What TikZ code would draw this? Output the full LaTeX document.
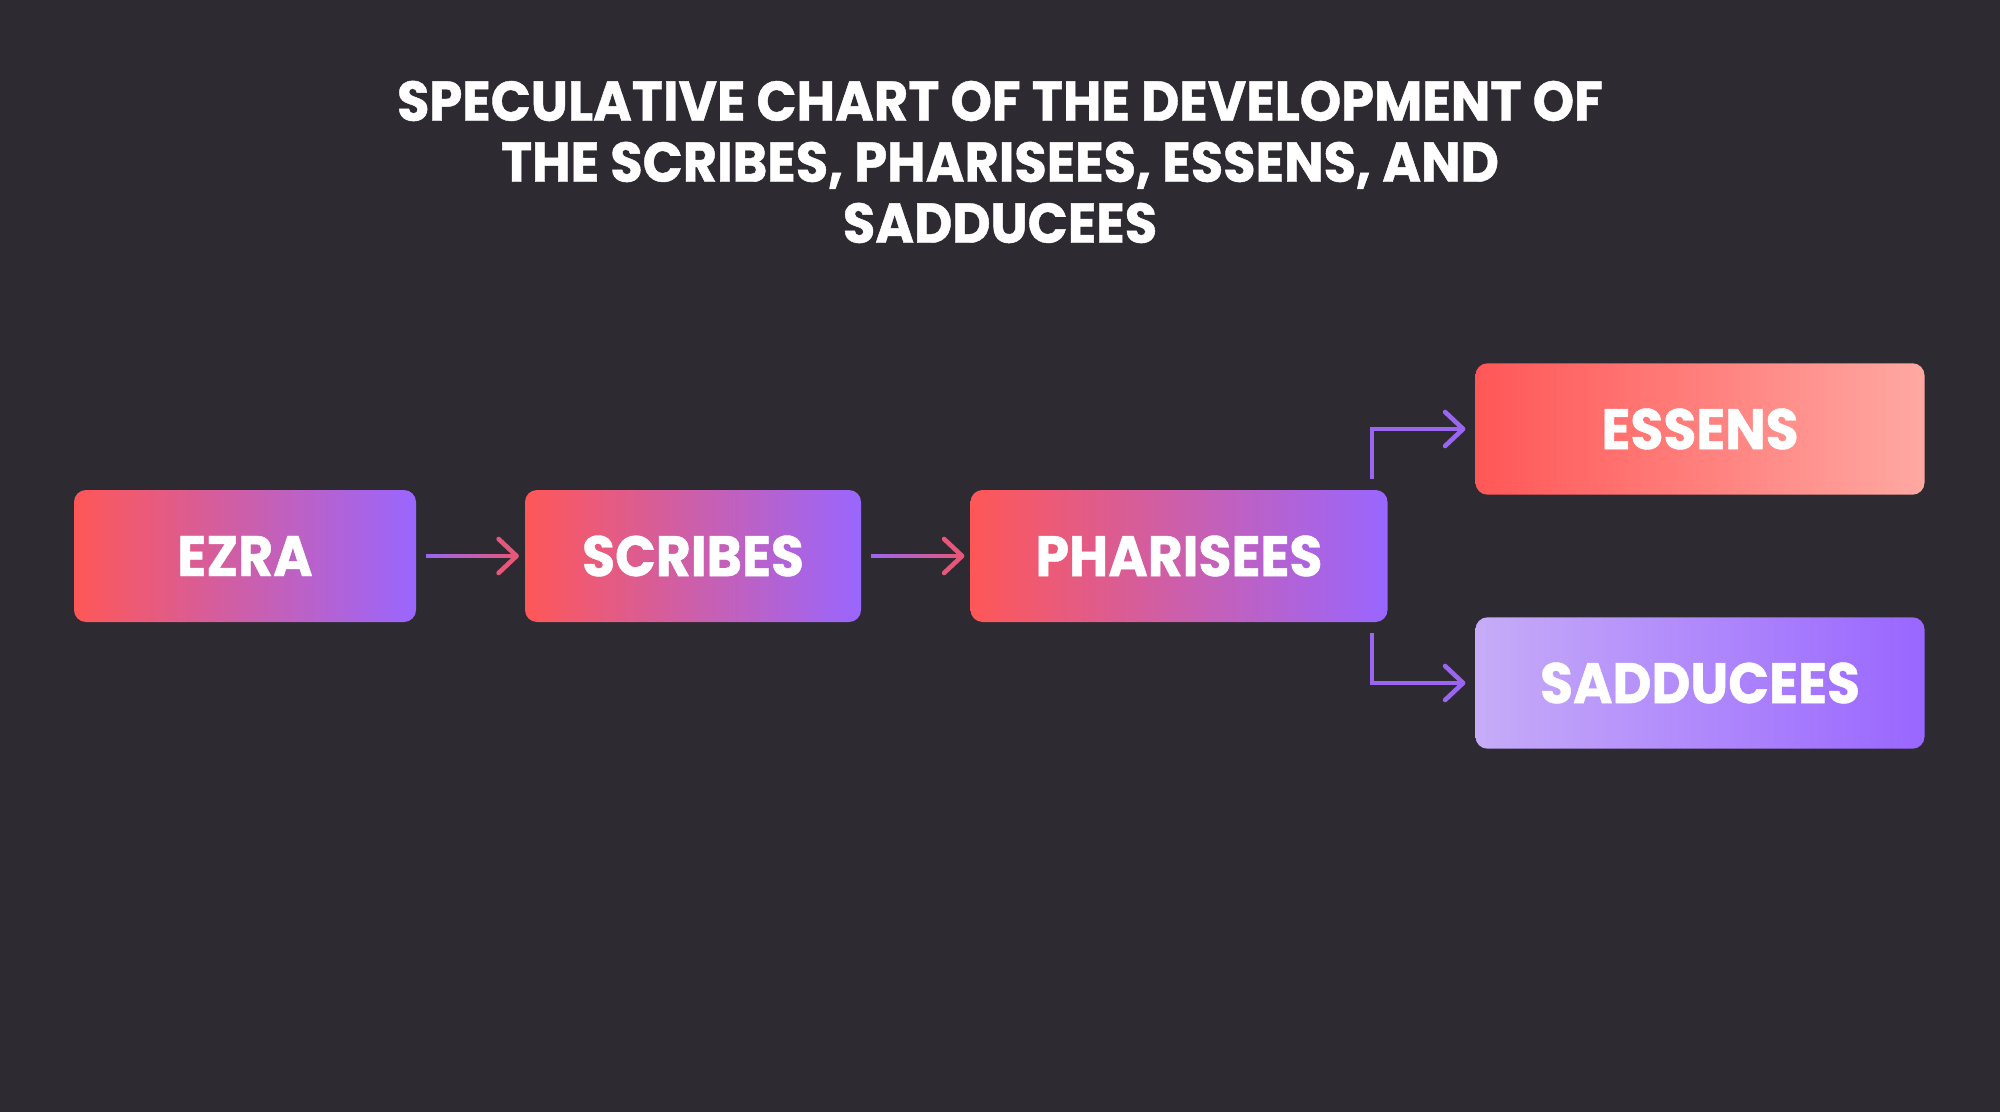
\documentclass[tikz,border=0pt]{standalone}
\usepackage{fontspec}
\setmainfont{Poppins}[FakeStretch=0.94, BoldFeatures={FakeBold=0.8}]
\usetikzlibrary{calc}
\definecolor{bgc}{HTML}{2D2A32}
\definecolor{hotred}{HTML}{FF5757}
\definecolor{violet}{HTML}{9966FF}
\definecolor{blush}{HTML}{FFA8A2}
\definecolor{lavender}{HTML}{C6ACF8}
\definecolor{linkpink}{HTML}{E6577A}
\definecolor{linkviolet}{HTML}{9A66F0}
\tikzset{
  x=0.5pt, y=-0.5pt,
  box/.style={rounded corners=6pt, inner sep=0pt, minimum height=66pt,
    text=white, font=\fontsize{28.5}{30}\selectfont\bfseries},
  warm/.style={box, left color=hotred, right color=violet},
  coral/.style={box, left color=hotred, right color=blush},
  lilac/.style={box, left color=lavender, right color=violet},
  link/.style={line width=2.3pt, line cap=round, line join=round},
}
\begin{document}
\begin{tikzpicture}
\useasboundingbox[fill=bgc] (0,0) rectangle (2000,1112);

% title
\node[text=white, align=center, font=\fontsize{28}{30.5}\selectfont\bfseries] (title) at (1000,162)
  {SPECULATIVE CHART OF THE DEVELOPMENT OF\\THE SCRIBES, PHARISEES, ESSENS, AND\\SADDUCEES};

% boxes
\node[warm, minimum width=171pt] (ezra) at (245,556) {EZRA};
\node[warm, minimum width=168pt] (scribes) at (693,556) {SCRIBES};
\node[warm, minimum width=208.5pt] (pharisees) at (1179,556) {PHARISEES};
\node[coral, minimum width=224.5pt, minimum height=65.7pt] (essens) at (1700,429) {ESSENS};
\node[lilac, minimum width=224.5pt, minimum height=65.7pt] (sadducees) at (1700,683) {SADDUCEES};

% straight links with a violet-to-pink shaft
\foreach \src/\dst [count=\k] in {ezra/scribes, scribes/pharisees}{
  \coordinate (s\k) at ($(\src.east)+(10,0)$);
  \coordinate (t\k) at ($(\dst.west)+(-8,0)$);
  \foreach \i in {0,...,23}{
    \pgfmathsetmacro{\pa}{\i/24}
    \pgfmathsetmacro{\pb}{(\i+1.3)/24}
    \pgfmathsetmacro{\mix}{100*\i/23}
    \draw[line width=2.3pt, color=linkpink!\mix!linkviolet]
      ($(s\k)!\pa!(t\k)$) -- ($(s\k)!\pb!(t\k)$);
  }
  \draw[link, linkpink] ($(t\k)+(-18,-17)$) -- (t\k) -- ($(t\k)+(-18,17)$);
}

% branching links
\coordinate (up0) at ($(pharisees.north east)+(-16,-11)$);
\coordinate (up2) at ($(essens.west)+(-12,0)$);
\coordinate (dn0) at ($(pharisees.south east)+(-16,11)$);
\coordinate (dn2) at ($(sadducees.west)+(-12,0)$);
\draw[line width=2.3pt, linkviolet] (up0) |- (up2);
\draw[line width=2.3pt, linkviolet] (dn0) |- (dn2);
\draw[link, linkviolet] ($(up2)+(-18,-17)$) -- (up2) -- ($(up2)+(-18,17)$);
\draw[link, linkviolet] ($(dn2)+(-18,-17)$) -- (dn2) -- ($(dn2)+(-18,17)$);
\end{tikzpicture}
\end{document}
